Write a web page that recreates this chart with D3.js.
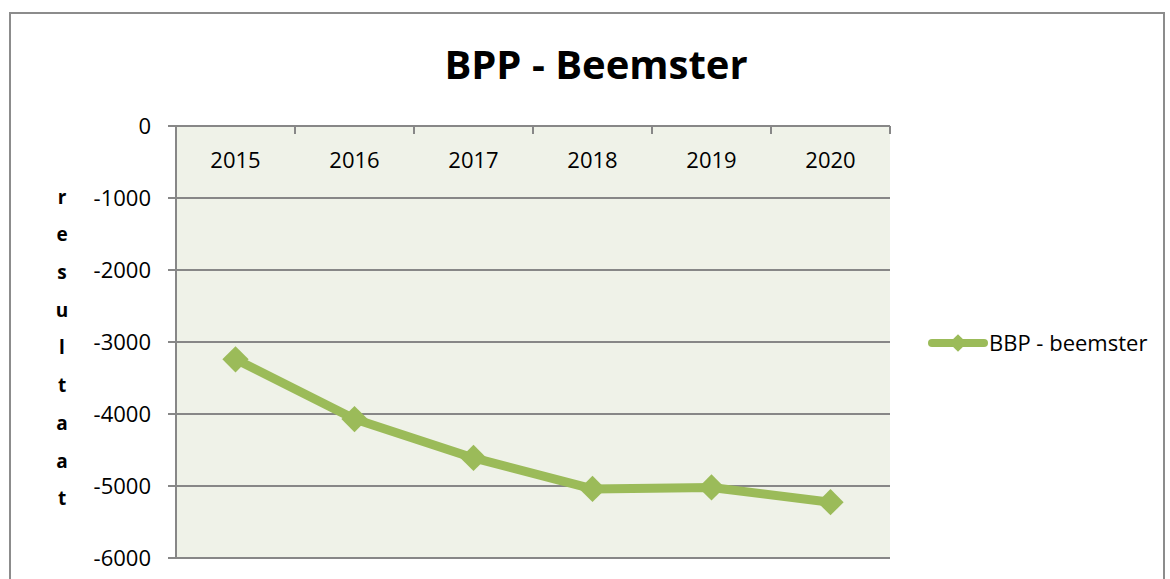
<!DOCTYPE html>
<html>
<head>
<meta charset="utf-8">
<script src="https://cdn.jsdelivr.net/npm/d3@7"></script>
<style>
  body { margin: 0; background: #fff; }
  text { font-family: "Open Sans", "Noto Sans", sans-serif; fill: #000; }
</style>
</head>
<body>
<div id="chart"></div>
<script>
const years = ["2015", "2016", "2017", "2018", "2019", "2020"];
const values = [-3240, -4070, -4610, -5040, -5020, -5225];
const yTicks = [0, -1000, -2000, -3000, -4000, -5000, -6000];
const seriesName = "BBP - beemster";
const title = "BPP - Beemster";
const axisTitle = "resultaat";

const width = 1170, height = 579;
const margin = { left: 176, top: 126, right: 890, bottom: 558 };
const green = "#9BBB59";

const svg = d3.select("#chart").append("svg")
    .attr("width", width)
    .attr("height", height);

// rand om de grafiek
svg.append("rect")
    .attr("x", 10).attr("y", 13)
    .attr("width", 1154).attr("height", 600)
    .attr("fill", "none")
    .attr("stroke", "#8c8c8c")
    .attr("stroke-width", 2);

const x = d3.scaleBand().domain(years).range([margin.left, margin.right]);
const y = d3.scaleLinear().domain([0, -6000]).range([margin.top, margin.bottom]);

svg.append("rect")
    .attr("x", margin.left).attr("y", margin.top)
    .attr("width", margin.right - margin.left)
    .attr("height", margin.bottom - margin.top)
    .attr("fill", "#eff2e8");

// gridlijnen
svg.selectAll(".grid")
    .data(yTicks)
    .enter()
    .append("line")
    .attr("x1", margin.left - 8)
    .attr("x2", margin.right)
    .attr("y1", d => y(d))
    .attr("y2", d => y(d))
    .attr("stroke", "#878787")
    .attr("stroke-width", 2);

svg.append("line")
    .attr("x1", margin.left).attr("x2", margin.left)
    .attr("y1", margin.top).attr("y2", margin.bottom)
    .attr("stroke", "#878787")
    .attr("stroke-width", 2);

// ticks op de categorie-as (bovenaan)
const catTicks = years.map(d => x(d)).concat([margin.right]);
svg.selectAll(".ctick")
    .data(catTicks)
    .enter()
    .append("line")
    .attr("x1", d => d).attr("x2", d => d)
    .attr("y1", margin.top).attr("y2", margin.top + 8)
    .attr("stroke", "#878787")
    .attr("stroke-width", 2);

svg.selectAll(".ylabel")
    .data(yTicks)
    .enter()
    .append("text")
    .attr("x", 151)
    .attr("y", d => y(d))
    .attr("dy", "0.35em")
    .attr("text-anchor", "end")
    .style("font-size", "22px")
    .text(d => d);

svg.selectAll(".xlabel")
    .data(years)
    .enter()
    .append("text")
    .attr("x", d => x(d) + x.bandwidth() / 2)
    .attr("y", 160)
    .attr("dy", "0.35em")
    .attr("text-anchor", "middle")
    .style("font-size", "22px")
    .text(d => d);

svg.append("text")
    .attr("x", 596).attr("y", 65)
    .attr("dy", "0.35em")
    .attr("text-anchor", "middle")
    .style("font-size", "40px")
    .style("font-weight", "bold")
    .text(title);

// verticale as-titel, letter voor letter
svg.selectAll(".atitle")
    .data(axisTitle.split(""))
    .enter()
    .append("text")
    .attr("x", 62)
    .attr("y", (d, i) => 197 + i * 37.7)
    .attr("dy", "0.35em")
    .attr("text-anchor", "middle")
    .style("font-size", "19px")
    .style("font-weight", "bold")
    .text(d => d);

const line = d3.line()
    .x((d, i) => x(years[i]) + x.bandwidth() / 2)
    .y(d => y(d));

svg.append("path")
    .datum(values)
    .attr("d", line)
    .attr("fill", "none")
    .attr("stroke", green)
    .attr("stroke-width", 9)
    .attr("stroke-linejoin", "round");

const diamond = d3.symbol().type(d3.symbolDiamond2).size(440);

svg.selectAll(".marker")
    .data(values)
    .enter()
    .append("path")
    .attr("d", diamond)
    .attr("transform", (d, i) => `translate(${x(years[i]) + x.bandwidth() / 2},${y(d)})`)
    .attr("fill", green);

// legenda
const legend = svg.append("g").attr("transform", "translate(932,343)");
legend.append("line")
    .attr("x1", 0).attr("x2", 52)
    .attr("stroke", green)
    .attr("stroke-width", 8)
    .attr("stroke-linecap", "round");
legend.append("path")
    .attr("d", d3.symbol().type(d3.symbolDiamond2).size(200))
    .attr("transform", "translate(26,0)")
    .attr("fill", green);
legend.append("text")
    .attr("x", 57)
    .attr("dy", "0.35em")
    .style("font-size", "22px")
    .text(seriesName);
</script>
</body>
</html>
